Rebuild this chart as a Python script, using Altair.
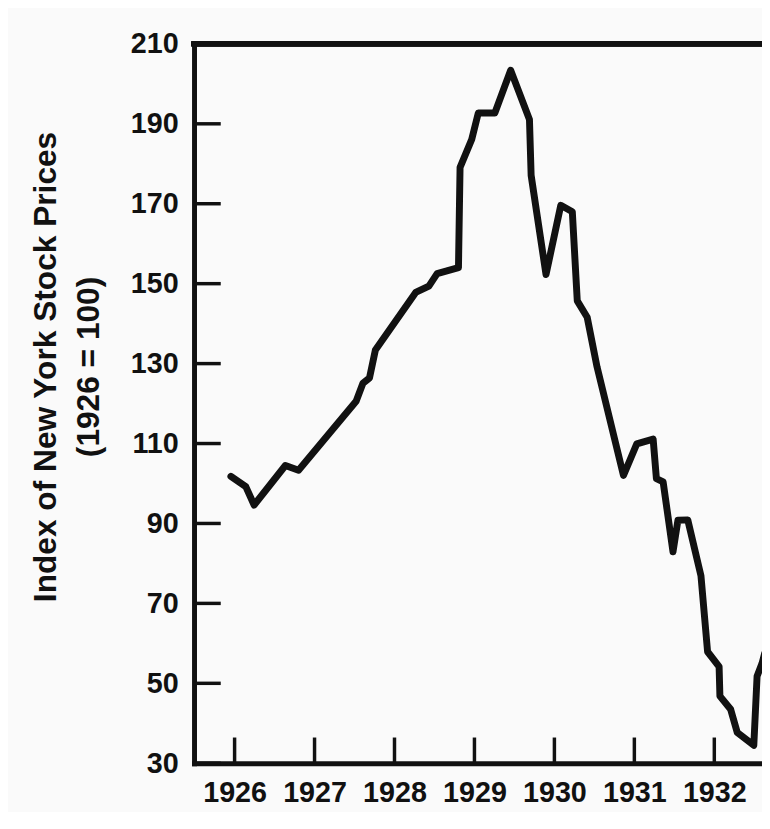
import altair as alt
import pandas as pd

# Index of New York stock prices (1926 = 100)
years = [1925.954, 1926.14, 1926.244, 1926.635, 1926.80, 1927.52, 1927.605, 1927.687,
         1927.761, 1928.265, 1928.43, 1928.533, 1928.80, 1928.82, 1928.966, 1929.048,
         1929.255, 1929.453, 1929.688, 1929.709, 1929.895, 1930.08, 1930.224, 1930.286,
         1930.41, 1930.533, 1930.864, 1931.03, 1931.235, 1931.276, 1931.36, 1931.483,
         1931.545, 1931.668, 1931.833, 1931.916, 1932.06, 1932.07, 1932.204, 1932.287,
         1932.494, 1932.535, 1932.597, 1932.63]
index = [101.8, 99.2, 94.6, 104.5, 103.3, 120.6, 125.1, 126.4,
         133.4, 147.8, 149.4, 152.5, 154.0, 179.1, 186.1, 192.7,
         192.7, 203.4, 191.1, 177.1, 152.3, 169.6, 168.0, 145.7,
         141.6, 129.2, 102.0, 109.9, 111.1, 101.2, 100.4, 82.9,
         90.8, 90.9, 76.9, 57.9, 54.2, 46.8, 43.5, 37.7,
         34.5, 51.8, 55.0, 57.5]

x_ticks = [1926, 1927, 1928, 1929, 1930, 1931, 1932]
y_ticks = [30, 50, 70, 90, 110, 130, 150, 170, 190, 210]

title_lines = ["Index of New York Stock Prices", "(1926 = 100)"]

df = pd.DataFrame({"year": years, "index": index})
xt = pd.DataFrame({"year": x_ticks})
yt = pd.DataFrame({"val": y_ticks})

W, H = 574, 727
INK = "#111111"
FONT = "Liberation Sans"

xscale = alt.Scale(domain=[1925.4926, 1932.5965], nice=False, zero=False)
yscale = alt.Scale(domain=[30, 210], nice=False, zero=False)

line = alt.Chart(df).mark_line(
    color=INK, strokeWidth=7, strokeJoin="round", strokeCap="round", clip=True
).encode(
    x=alt.X("year:Q", scale=xscale, axis=alt.Axis(
        values=x_ticks, format="d", title=None, grid=False, ticks=False, tickSize=0,
        labelFontSize=29, labelFontWeight="bold", labelFont=FONT, labelColor=INK,
        labelPadding=16, labelBaseline="top", domainColor=INK, domainWidth=5,
        domainCap="square", labelFlush=False, labelOverlap=False)),
    y=alt.Y("index:Q", scale=yscale, axis=alt.Axis(
        values=y_ticks, title=title_lines, grid=False, ticks=False, tickSize=0,
        labelFontSize=29, labelFontWeight="bold", labelFont=FONT, labelColor=INK,
        labelPadding=16, labelBaseline="middle", domainColor=INK, domainWidth=5,
        domainCap="square", labelFlush=False, labelOverlap=False,
        titleFont=FONT, titleFontSize=32, titleFontWeight="bold", titleColor=INK,
        titleAngle=270, titleAlign="center", titleBaseline="middle",
        titleX=-150, titleY=326, titleLineHeight=43)),
)

xtick_rules = alt.Chart(xt).mark_rule(color=INK, strokeWidth=3.5).encode(
    x=alt.X("year:Q", scale=xscale),
    y=alt.value(H),
    y2=alt.value(H - 26),
)

ytick_rules = alt.Chart(yt).mark_rule(color=INK, strokeWidth=3.5).encode(
    y=alt.Y("val:Q", scale=yscale),
    x=alt.value(0),
    x2=alt.value(27),
)

top_frame = alt.Chart(yt).mark_rule(color=INK, strokeWidth=5, strokeCap="square").encode(
    x=alt.value(0),
    x2=alt.value(W + 10),
    y=alt.value(0),
)

chart = alt.layer(xtick_rules, ytick_rules, line, top_frame).properties(
    width=W,
    height=H,
    autosize=alt.AutoSizeParams(type="none"),
    padding={"left": 188, "top": 32, "right": 0, "bottom": 45},
    background="#fafafa",
).configure_view(stroke=None)

chart.save("out.html", embed_options={"renderer": "svg", "actions": False})
